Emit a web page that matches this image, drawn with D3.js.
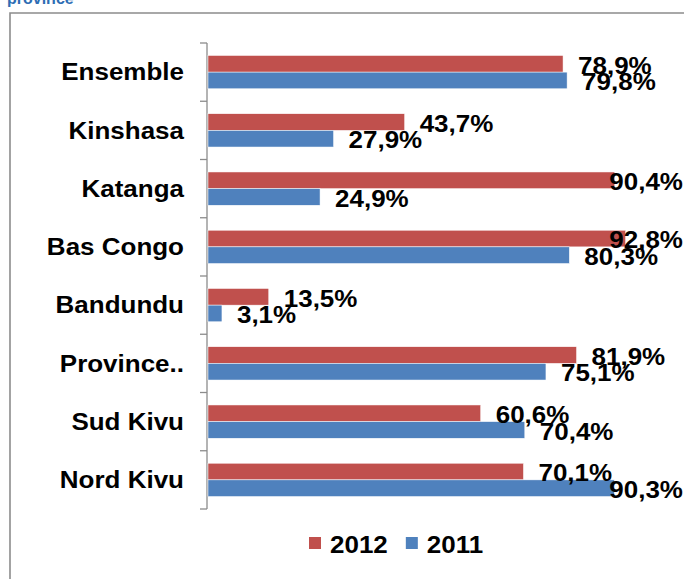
<!DOCTYPE html>
<html>
<head>
<meta charset="utf-8">
<script src="https://cdn.jsdelivr.net/npm/d3@7"></script>
<style>
  body { margin: 0; background: #fff; }
  svg { display: block; }
  text { font-family: Arial, "Liberation Sans", sans-serif; font-weight: bold; }
</style>
</head>
<body>
<div id="chart"></div>
<script>
// DATA
var provinces = ["Ensemble", "Kinshasa", "Katanga", "Bas Congo", "Bandundu", "Province..", "Sud Kivu", "Nord Kivu"];
var series = ["2012", "2011"];
var values2012 = [78.9, 43.7, 90.4, 92.8, 13.5, 81.9, 60.6, 70.1];
var values2011 = [79.8, 27.9, 24.9, 80.3, 3.1, 75.1, 70.4, 90.3];
var colors = ["#C0504D", "#4F81BD"];

var W = 684, H = 579;
var stretch = 1.13;   // the picture's text is a bit wide

var svg = d3.select("#chart").append("svg")
    .attr("width", W)
    .attr("height", H);

// heading cut off at the top, then the frame
svg.append("text")
    .attr("x", 7)
    .attr("y", 4)
    .attr("font-size", "16px")
    .attr("fill", "#2E6DB4")
    .text("province");

svg.append("path")
    .attr("d", "M10," + H + "V13H" + W)
    .attr("fill", "none")
    .attr("stroke", "#8C8C8C")
    .attr("stroke-width", 1.6);

// SCALES
var y = d3.scaleBand().domain(provinces).range([43, 509]);
var ySub = d3.scaleBand().domain(series).range([0, y.bandwidth()]).paddingOuter(0.75);
var x = d3.scaleLinear().domain([0, 100]).range([208, 658]);
var color = d3.scaleOrdinal().domain(series).range(colors);

var fr = d3.formatLocale({decimal: ",", thousands: ".", grouping: [3], currency: ["", "€"]});
var fmt = fr.format(".1f");

// AXIS (left, ticks between categories)
var axis = svg.append("g");
axis.append("line")
    .attr("x1", 207).attr("x2", 207)
    .attr("y1", y.range()[0]).attr("y2", y.range()[1])
    .attr("stroke", "#8C8C8C").attr("stroke-width", 1.3);
axis.selectAll(".tk")
    .data(provinces.concat(["end"]))
    .enter().append("line")
    .attr("x1", 200).attr("x2", 207)
    .attr("y1", function(d, i) { return y.range()[0] + i * y.step(); })
    .attr("y2", function(d, i) { return y.range()[0] + i * y.step(); })
    .attr("stroke", "#8C8C8C").attr("stroke-width", 1.3);

// CATEGORY LABELS
svg.selectAll(".cat")
    .data(provinces)
    .enter().append("text")
    .attr("class", "cat")
    .attr("transform", function(d) { return "translate(184," + (y(d) + y.bandwidth() / 2) + ") scale(" + stretch + ",1)"; })
    .attr("dy", "0.36em")
    .attr("text-anchor", "end")
    .attr("font-size", "23px")
    .attr("fill", "#000")
    .text(function(d) { return d; });

// BARS
var rows = [];
provinces.forEach(function(p, i) {
    rows.push({prov: p, s: "2012", v: values2012[i]});
    rows.push({prov: p, s: "2011", v: values2011[i]});
});

svg.selectAll(".bar")
    .data(rows)
    .enter().append("rect")
    .attr("x", x(0))
    .attr("y", function(d) { return y(d.prov) + ySub(d.s); })
    .attr("width", function(d) { return x(d.v) - x(0); })
    .attr("height", ySub.bandwidth())
    .attr("fill", function(d) { return color(d.s); })
    .attr("stroke", "#fff")
    .attr("stroke-width", 0.5);

// VALUE LABELS (pushed back inside the frame when too long)
svg.selectAll(".val")
    .data(rows)
    .enter().append("text")
    .attr("class", "val")
    .attr("font-size", "23px")
    .attr("fill", "#000")
    .attr("dy", "0.38em")
    .text(function(d) { return fmt(d.v) + "%"; })
    .attr("transform", function(d) {
        var w = this.getComputedTextLength() * stretch;
        var lx = Math.min(x(d.v) + 15, 683 - w);
        var ly = y(d.prov) + ySub(d.s) + ySub.bandwidth() / 2 + 1;
        return "translate(" + lx + "," + ly + ") scale(" + stretch + ",1)";
    });

// LEGEND
var legend = svg.append("g").attr("transform", "translate(309,537)");
var lx = 0;
series.forEach(function(s) {
    legend.append("rect")
        .attr("x", lx).attr("y", 0)
        .attr("width", 12).attr("height", 12)
        .attr("fill", color(s));
    var t = legend.append("text")
        .attr("font-size", "23px")
        .attr("fill", "#000")
        .text(s);
    var tw = t.node().getComputedTextLength() * stretch;
    t.attr("transform", "translate(" + (lx + 21) + ",16) scale(" + stretch + ",1)");
    lx += 21 + tw + 18;
});
</script>
</body>
</html>
